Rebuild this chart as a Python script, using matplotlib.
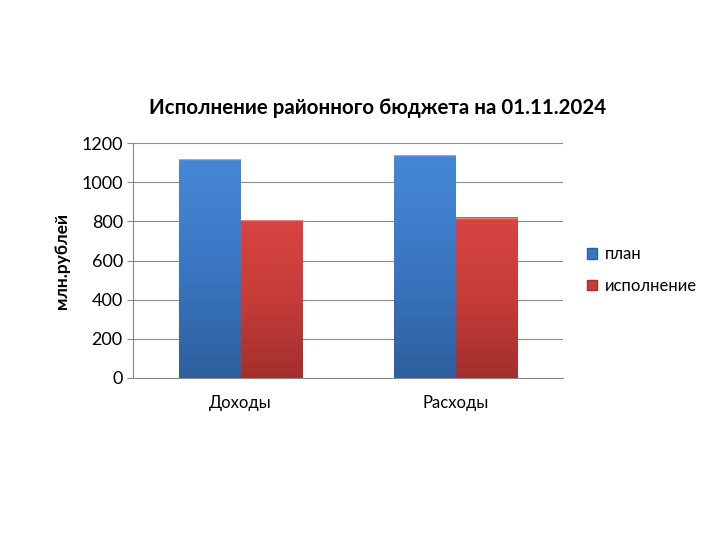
import numpy as np
from matplotlib import pyplot as plt
from matplotlib.colors import LinearSegmentedColormap
from matplotlib.patches import Patch

plt.rcParams['font.family'] = ['Lato', 'DejaVu Sans']

categories = ['Доходы', 'Расходы']
plan = [1117, 1139]
execution = [806, 818]
series_names = ['план', 'исполнение']

blue_cmap = LinearSegmentedColormap.from_list('b', ['#2f5f9e', '#3a76c2', '#4688d6'])
red_cmap = LinearSegmentedColormap.from_list('r', ['#a32f2d', '#c63c39', '#d84442'])

fig = plt.figure(figsize=(7.2, 5.4), dpi=100)
ax = fig.add_axes([0.185, 0.30, 0.597, 0.435])

x = np.arange(len(categories))
w = 0.285
grad = np.linspace(0, 1, 256).reshape(-1, 1)

for vals, off, cmap in [(plan, -w / 2, blue_cmap), (execution, w / 2, red_cmap)]:
    bars = ax.bar(x + off, vals, w, color='none', zorder=3)
    for b in bars:
        x0, y0 = b.get_x(), b.get_y()
        ax.imshow(grad, cmap=cmap, origin='lower', aspect='auto',
                  extent=(x0, x0 + b.get_width(), y0, y0 + b.get_height()), zorder=3)
        # thin highlight edge like in the original
        ax.plot([x0, x0 + b.get_width()], [y0 + b.get_height()] * 2,
                color='white', alpha=0.35, lw=1, zorder=4)

ax.set_xlim(-0.5, 1.5)
ax.set_ylim(0, 1200)
ax.set_yticks(range(0, 1201, 200))
ax.set_xticks(x)
ax.set_xticklabels(categories, fontsize=12)
ax.tick_params(axis='y', labelsize=13, length=4, color='#888888')
ax.tick_params(axis='x', length=0, pad=12)
ax.yaxis.grid(True, color='#8c8c8c', lw=0.8, zorder=0)
ax.set_axisbelow(True)
for s in ['top', 'right']:
    ax.spines[s].set_visible(False)
ax.spines['left'].set_color('#888888')
ax.spines['bottom'].set_color('#888888')

ax.set_ylabel('млн.рублей', fontsize=12.5, fontweight='bold', labelpad=8)
fig.text(0.525, 0.80, 'Исполнение районного бюджета на 01.11.2024',
         ha='center', va='center', fontsize=14.8, fontweight='bold')

handles = [Patch(facecolor='#3a76c2', edgecolor='#2f5f9e'),
           Patch(facecolor='#c63c39', edgecolor='#a32f2d')]
fig.legend(handles, series_names, loc='center left', bbox_to_anchor=(0.795, 0.5),
           frameon=False, fontsize=12, handlelength=0.6, handleheight=0.6,
           handletextpad=0.45, labelspacing=0.95)

fig.savefig('out.png', dpi=100)
